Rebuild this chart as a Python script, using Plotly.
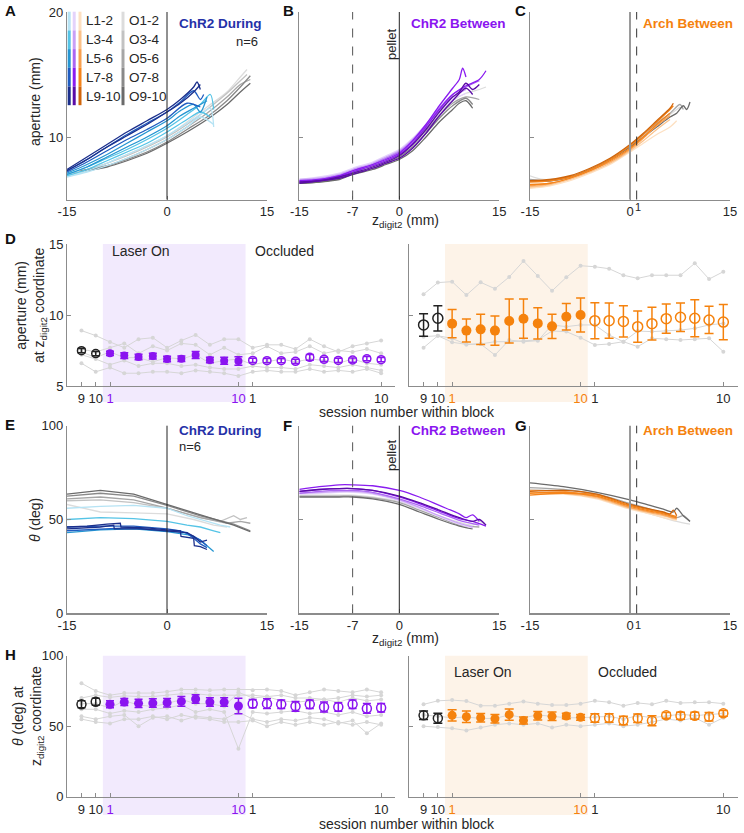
import plotly.graph_objects as go

W, H = 744, 833
FONT = "Liberation Sans, Arial, sans-serif"
TXT = "#262626"
AXC = "#8c8c8c"

BLUE_T = "#2531a8"
PURPLE = "#8a14f0"
ORANGE = "#f5820d"
BLUES = ["#b6e3f4", "#55c4e6", "#2596d2", "#1f5cc0", "#1b2f8c"]
PURPLES = ["#e4d3fb", "#c9a0f6", "#ab66f2", "#8a1cf0", "#5a0ca6"]
ORANGES = ["#fde0c2", "#fbc189", "#f9a04f", "#f5841a", "#d0650a"]
GRAYS = ["#dcdcdc", "#c2c2c2", "#a6a6a6", "#898989", "#6b6b6b"]
LEG_L = ["L1-2", "L3-4", "L5-6", "L7-8", "L9-10"]
LEG_O = ["O1-2", "O3-4", "O5-6", "O7-8", "O9-10"]

# ---------------- trajectory data: (shade index, z, value) ----------------
A_GRAY = [
    (0, [-15, -12, -9, -6, -3, 0, 3, 6, 9, 11, 12], [7.0, 7.3, 7.9, 8.6, 9.3, 10.1, 11.2, 12.4, 13.6, 14.8, 15.4]),
    (1, [-14, -12, -9, -6, -3, 0, 3, 6, 9, 11, 12], [7.1, 7.4, 7.9, 8.5, 9.2, 10.0, 11.0, 12.2, 13.5, 14.5, 15.0]),
    (2, [-13, -9, -6, -3, 0, 3, 6, 9, 11, 12.5], [7.2, 7.7, 8.3, 9.0, 9.8, 10.8, 11.9, 13.2, 14.2, 14.6]),
    (3, [-13, -9, -6, -3, 0, 3, 6, 9, 11, 12.5], [7.3, 7.7, 8.2, 8.8, 9.6, 10.6, 11.6, 12.9, 14.0, 14.9]),
    (4, [-12.5, -9, -6, -3, 0, 3, 6, 9, 11, 12.5], [7.3, 7.6, 8.1, 8.7, 9.5, 10.4, 11.4, 12.6, 13.6, 14.3]),
]
A_LASER = [
    (0, [-15, -12, -9, -6, -3, 0, 3, 5, 6.5, 7], [6.9, 7.3, 7.9, 8.6, 9.3, 10.1, 11.1, 11.8, 12.3, 10.8]),
    (0, [-15, -12, -9, -6, -3, 0, 3, 5, 7], [6.8, 7.2, 7.7, 8.3, 9.0, 9.8, 10.8, 11.6, 11.0]),
    (1, [-15, -12, -9, -6, -3, 0, 3, 5, 6.5, 7], [7.0, 7.6, 8.3, 9.0, 9.8, 10.7, 11.8, 12.6, 13.4, 12.2]),
    (1, [-15, -12, -9, -6, -3, 0, 3, 5, 6.5], [6.9, 7.4, 8.1, 8.8, 9.5, 10.4, 11.4, 12.0, 11.6]),
    (2, [-15, -12, -9, -6, -3, 0, 2, 4, 5, 6], [7.1, 7.8, 8.6, 9.5, 10.4, 11.3, 12.1, 12.6, 12.0, 13.2]),
    (2, [-15, -12, -9, -6, -3, 0, 2, 4, 6], [7.0, 7.6, 8.4, 9.2, 10.0, 10.9, 11.7, 12.3, 12.9]),
    (3, [-15, -12, -9, -6, -3, 0, 2, 4, 5, 5.5], [7.3, 8.2, 9.2, 10.2, 11.1, 12.0, 12.8, 13.7, 13.0, 13.4]),
    (3, [-15, -12, -9, -6, -3, 0, 3, 5], [7.2, 8.0, 8.9, 9.8, 10.6, 11.5, 12.7, 12.4]),
    (4, [-15, -12, -9, -6, -3, 0, 2, 4, 4.5, 5], [7.4, 8.4, 9.4, 10.4, 11.3, 12.2, 13.0, 14.0, 14.4, 13.8]),
    (4, [-15, -12, -9, -6, -3, 0, 2, 4, 5], [7.3, 8.2, 9.2, 10.1, 11.0, 12.0, 12.7, 13.6, 14.2]),
]
B_GRAY = [
    (0, [-15, -12, -9, -7, -4, -2, 0, 2, 4, 6, 8, 10, 12, 13], [6.5, 6.6, 6.9, 7.3, 7.8, 8.3, 8.8, 9.6, 10.7, 11.9, 12.9, 13.5, 13.8, 14.0]),
    (2, [-15, -12, -9, -7, -4, -2, 0, 2, 4, 6, 8, 10, 12], [6.4, 6.5, 6.8, 7.2, 7.7, 8.1, 8.6, 9.4, 10.5, 11.7, 12.7, 13.2, 13.0]),
    (3, [-15, -12, -9, -7, -4, -2, 0, 2, 4, 6, 8, 10, 11], [6.3, 6.4, 6.7, 7.1, 7.5, 7.9, 8.4, 9.2, 10.3, 11.5, 12.5, 13.1, 12.6]),
    (4, [-15, -12, -9, -7, -4, -2, 0, 2, 4, 6, 8, 9, 10, 11], [6.3, 6.4, 6.6, 7.0, 7.4, 7.8, 8.2, 8.9, 10.0, 11.2, 12.2, 12.7, 12.9, 12.3]),
]
B_LASER = [
    (0, [-15, -12, -9, -7, -4, -2, 0, 2, 4, 6, 8, 10], [6.6, 6.8, 7.1, 7.5, 8.0, 8.5, 9.0, 9.9, 11.0, 12.1, 13.0, 13.5]),
    (1, [-15, -12, -9, -7, -4, -2, 0, 2, 4, 6, 8, 10], [6.6, 6.7, 7.0, 7.4, 7.9, 8.4, 8.9, 9.8, 11.0, 12.2, 13.2, 13.8]),
    (2, [-15, -12, -9, -7, -4, -2, 0, 2, 4, 6, 8, 10, 12], [6.5, 6.6, 6.9, 7.3, 7.8, 8.3, 8.8, 9.7, 10.9, 12.3, 13.4, 14.0, 14.5]),
    (3, [-15, -12, -9, -7, -4, -2, 0, 2, 4, 6, 8, 9, 9.5, 10], [6.5, 6.6, 6.9, 7.3, 7.8, 8.2, 8.7, 9.7, 11.0, 12.5, 13.9, 14.6, 15.5, 14.8]),
    (3, [-15, -12, -9, -7, -4, -2, 0, 2, 4, 6, 8, 10, 12, 13], [6.4, 6.5, 6.8, 7.2, 7.7, 8.1, 8.6, 9.5, 10.8, 12.2, 13.4, 14.1, 14.6, 15.3]),
    (4, [-15, -12, -9, -7, -4, -2, 0, 2, 4, 6, 8, 9, 10, 11, 12], [6.4, 6.5, 6.8, 7.1, 7.6, 8.0, 8.5, 9.4, 10.6, 12.0, 13.2, 13.6, 14.3, 13.8, 14.2]),
    (4, [-15, -12, -9, -7, -4, -2, 0, 2, 4, 6, 8, 10, 11], [6.3, 6.5, 6.7, 7.0, 7.5, 7.9, 8.3, 9.1, 10.3, 11.7, 12.9, 13.9, 13.4]),
]
C_GRAY = [
    (0, [-15, -13, -9, -6, -3, 0, 2, 4, 6, 7.5], [6.9, 6.6, 6.8, 7.3, 8.1, 9.2, 10.1, 11.0, 11.8, 12.4]),
    (2, [-15, -12, -9, -6, -3, 0, 2, 4, 6, 7.5, 8], [6.6, 6.5, 6.8, 7.4, 8.2, 9.3, 10.2, 11.1, 11.9, 12.6, 12.2]),
    (4, [-15, -12, -9, -6, -3, 0, 2, 4, 6, 7, 8, 8.5, 9], [6.5, 6.5, 6.8, 7.4, 8.2, 9.2, 10.0, 10.8, 11.6, 11.9, 12.5, 12.2, 12.8]),
]
C_LASER = [
    (0, [-15, -12, -9, -6, -3, 0, 2, 4, 6, 7], [5.9, 6.1, 6.5, 7.1, 7.8, 8.8, 9.5, 10.2, 10.8, 11.3]),
    (1, [-15, -12, -9, -6, -3, 0, 2, 4, 6], [6.0, 6.2, 6.6, 7.2, 7.9, 8.9, 9.7, 10.6, 11.4]),
    (2, [-15, -12, -9, -6, -3, 0, 2, 4, 6], [6.1, 6.3, 6.7, 7.3, 8.0, 9.0, 9.9, 10.9, 11.7]),
    (3, [-15, -12, -9, -6, -3, 0, 2, 4, 6, 6.5], [6.4, 6.5, 6.8, 7.4, 8.2, 9.3, 10.2, 11.2, 12.2, 12.5]),
    (3, [-15, -12, -9, -6, -3, 0, 2, 4, 6], [6.2, 6.3, 6.7, 7.3, 8.1, 9.1, 10.0, 11.0, 11.9]),
    (4, [-15, -12, -9, -6, -3, 0, 2, 4, 6, 6.5], [6.5, 6.6, 6.9, 7.5, 8.3, 9.4, 10.3, 11.3, 12.3, 12.7]),
]
E_GRAY = [
    (0, [-15, -10, -5, 0, 4, 7, 9], [58, 54, 53.5, 53, 50, 47, 46]),
    (1, [-15, -10, -5, 0, 5, 8, 10, 11, 12], [60, 60.5, 59, 56, 51, 49, 52, 50, 51]),
    (2, [-15, -10, -5, 0, 5, 9, 11, 12.5], [61, 62, 60.5, 56, 51, 48, 49, 48]),
    (3, [-15, -10, -5, 0, 5, 10, 12.5], [62.5, 64, 62.5, 57.5, 52, 47.5, 44]),
    (4, [-15, -10, -5, 0, 5, 10, 12.5], [63.5, 65.5, 63.5, 58, 52.5, 47, 43.5]),
]
E_LASER = [
    (0, [-15, -10, -5, 0, 3, 6, 8, 9.5], [56, 57, 57.5, 56, 52, 49, 47, 46]),
    (1, [-15, -10, -5, 0, 3, 5, 7, 8], [50, 51, 50.5, 49, 47, 46, 44, 43]),
    (2, [-15, -10, -5, 0, 3, 5, 6, 7], [43, 44.5, 45, 43.5, 42, 39, 36, 33]),
    (3, [-15, -12, -9, -6, -3, 0, 3, 4, 5, 6], [44, 44.5, 45, 45.5, 45, 44, 43, 40, 37, 35]),
    (3, [-15, -10, -5, 0, 2, 4, 5, 6], [46, 46.5, 46.5, 45, 44, 41, 39, 36]),
    (4, [-15, -12, -9, -7, -6.9, -3, 0, 2, 2.1, 3, 4, 4.1, 5, 6], [46, 46.5, 47.5, 48, 46, 45.5, 44.5, 44, 41, 40.5, 40, 36, 35.5, 34]),
    (4, [-15, -10, -8, -7.9, -4, 0, 3, 4, 5, 6], [45, 46, 47, 45, 45, 44, 43, 41, 38, 39]),
]
F_GRAY = [
    (0, [-15, -12, -9, -7, -4, 0, 3, 6, 9, 11, 12, 13], [63, 63, 63, 63, 62, 59.5, 56, 52, 48.5, 47, 49, 47]),
    (2, [-15, -12, -9, -7, -4, 0, 3, 6, 9, 12], [62.5, 62.5, 62.5, 62.5, 61.5, 59, 55, 51, 47, 46]),
    (4, [-15, -12, -9, -7, -4, 0, 3, 6, 9, 11], [62, 62, 62, 62, 61, 58, 54, 50, 46.5, 45]),
]
F_LASER = [
    (0, [-15, -12, -9, -7, -4, 0, 3, 6, 9, 11], [63.5, 64, 64.5, 64.5, 63.5, 60, 56, 51.5, 47.5, 45.5]),
    (1, [-15, -12, -9, -7, -4, 0, 3, 6, 9, 11], [64, 64.5, 65, 65, 64, 60.5, 56.5, 52, 48, 46]),
    (2, [-15, -12, -9, -7, -4, 0, 3, 6, 9, 12], [64, 65, 65.5, 65.5, 64.5, 61, 57.5, 53.5, 49.5, 47]),
    (3, [-15, -12, -9, -7, -4, 0, 3, 6, 9, 10, 11, 12], [66, 67.5, 68.5, 68.5, 68, 65.5, 62, 57.5, 53, 51, 52.5, 49]),
    (3, [-15, -12, -9, -7, -4, 0, 3, 6, 9, 11, 13], [65, 66, 66.5, 66.5, 65.5, 62, 58.5, 54.5, 50.5, 49, 46.5]),
    (4, [-15, -12, -9, -7, -4, 0, 3, 6, 9, 11, 12, 13], [65, 66, 66.5, 66.5, 65.5, 62.5, 59, 55, 51, 49, 50, 47]),
]
G_GRAY = [
    (0, [-15, -10, -5, 0, 3, 5, 7, 9], [66, 65, 62, 56, 53, 51, 49, 47.5]),
    (2, [-15, -10, -5, 0, 3, 5, 7, 8, 9], [67, 66, 63.5, 58.5, 55.5, 53.5, 51, 52, 49]),
    (4, [-15, -10, -5, 0, 3, 5, 6.5, 7, 8, 9], [69.5, 67.5, 64.5, 60.5, 57.5, 55.5, 54, 56, 52, 49]),
]
G_LASER = [
    (0, [-15, -10, -5, 0, 3, 5, 7], [63.5, 63.5, 61, 55.5, 53, 51, 49.5]),
    (1, [-15, -10, -5, 0, 3, 5, 7], [64.5, 64, 61.5, 56, 53.5, 52, 50]),
    (2, [-15, -10, -5, 0, 3, 5, 7], [65.5, 65, 62, 56.5, 54, 52.5, 50.5]),
    (3, [-15, -10, -5, 0, 3, 5, 7], [64, 64.5, 63, 57.5, 55, 53.5, 51.5]),
    (3, [-15, -10, -5, 0, 3, 5, 7], [63, 64, 62.5, 57, 54.5, 53, 51]),
    (4, [-15, -10, -5, 0, 3, 5, 6, 6.5, 7], [65, 65.5, 63.5, 58, 55.5, 54, 53, 55, 52]),
]

# ---------------- session data ----------------
PRE_POS = [-1, 0]
LAS_POS = [1, 2, 3, 4, 5, 6, 7, 8, 9, 10]
OCC_POS = [11, 12, 13, 14, 15, 16, 17, 18, 19, 20]
ALL_POS = PRE_POS + LAS_POS + OCC_POS

D_L_PRE = [7.49, 7.28]
D_L_PRE_ERR = [0.15, 0.15]
D_L_LAS = [7.30, 7.14, 7.04, 7.11, 6.90, 6.92, 7.18, 6.83, 6.78, 6.76]
D_L_LAS_ERR = [0.15, 0.2, 0.2, 0.2, 0.2, 0.2, 0.25, 0.2, 0.25, 0.3]
D_L_OCC = [6.80, 6.78, 6.78, 6.74, 7.02, 6.88, 6.80, 6.83, 6.92, 6.85]
D_L_OCC_ERR = [0.15, 0.15, 0.15, 0.15, 0.2, 0.15, 0.15, 0.15, 0.15, 0.15]
D_L_ANIMALS = [
    [8.9, 8.55, 8.1, 7.7, 8.3, 8.4, 7.7, 8.2, 8.6, 7.9, 8.3, 8.3, 7.7, 7.9, 7.9, 7.6, 8.3, 7.8, 7.4, 7.8, 8.0, 8.2],
    [7.6, 7.4, 7.7, 8.0, 7.3, 7.8, 7.5, 8.0, 7.9, 7.2, 7.7, 7.2, 7.3, 7.8, 7.3, 7.4, 7.8, 7.3, 7.5, 7.4, 7.6, 7.3],
    [7.4, 7.0, 7.4, 7.0, 7.0, 6.7, 7.0, 6.9, 7.2, 6.6, 6.8, 6.9, 6.5, 6.7, 6.9, 6.7, 6.9, 6.8, 6.6, 6.9, 6.6, 6.5],
    [7.2, 6.9, 6.5, 6.8, 6.4, 6.6, 6.6, 6.4, 6.5, 6.3, 6.2, 6.2, 6.4, 6.3, 6.3, 6.2, 6.5, 6.4, 6.3, 6.5, 6.3, 6.1],
    [6.6, 6.0, 6.3, 5.9, 5.9, 6.0, 6.0, 5.9, 6.1, 6.0, 5.9, 5.7, 6.0, 6.1, 6.0, 6.0, 6.2, 6.0, 6.1, 6.0, 6.2, 5.9],
]

D_R_PRE = [9.30, 9.77]
D_R_PRE_ERR = [0.79, 0.89]
D_R_LAS = [9.39, 8.90, 8.99, 8.90, 9.58, 9.74, 9.41, 9.20, 9.88, 10.0]
D_R_LAS_ERR = [1.0, 0.81, 1.06, 1.03, 1.55, 1.38, 1.1, 0.85, 0.93, 1.19]
D_R_OCC = [9.60, 9.60, 9.55, 9.18, 9.39, 9.74, 9.84, 9.77, 9.65, 9.50]
D_R_OCC_ERR = [1.27, 1.24, 1.1, 1.1, 1.15, 1.03, 1.0, 1.3, 0.96, 1.24]
D_R_ANIMALS = [
    [11.46, 12.28, 12.35, 11.4, 12.3, 11.85, 12.68, 13.8, 12.75, 11.7, 12.65, 13.47, 13.4, 13.26, 12.8, 12.58, 12.8, 12.8, 12.8, 13.64, 12.53, 13.05],
    [8.47, 8.54, 8.08, 7.93, 7.96, 8.12, 8.12, 8.19, 8.24, 8.87, 8.83, 8.4, 7.89, 7.96, 8.12, 7.77, 8.36, 8.3, 8.24, 8.3, 8.36, 7.42],
    [7.7, 8.54, 8.35, 7.93, 7.96, 7.18, 8.24, 8.12, 8.19, 9.3, 9.18, 9.3, 9.3, 8.59, 8.12, 8.87, 8.83, 8.87, 8.94, 9.06, 9.3, 9.41],
]

H_L_PRE = [65.5, 67.4]
H_L_PRE_ERR = [2.5, 2.5]
H_L_LAS = [65.5, 67.1, 66.2, 66.4, 66.7, 67.6, 69.3, 67.1, 67.1, 64.3]
H_L_LAS_ERR = [2.5, 2.5, 3, 3, 3, 3.5, 3, 3, 3, 5.5]
H_L_OCC = [66, 66, 65.5, 64.1, 65.5, 63.6, 63.6, 65.5, 62.6, 63.1]
H_L_OCC_ERR = [3, 3.5, 3, 3.5, 3, 3.5, 3, 3, 3.5, 3]
H_L_ANIMALS = [
    [80.5, 75, 72, 73.5, 73.5, 73.5, 74.5, 76, 76, 75.5, 76, 76, 75.5, 76, 75, 72, 74, 76, 75, 74, 76, 74],
    [70, 72, 70.5, 71.5, 71, 71, 72, 73, 73, 72, 72, 72, 72, 71, 72, 70, 70, 69, 70, 72, 71, 72],
    [66, 66, 63, 68, 65, 64, 66, 69, 66, 66, 64, 74, 70, 71, 68, 67, 68, 69, 67, 70, 68, 69],
    [62, 62, 59, 61, 60, 62, 63, 65, 60, 62, 60, 34, 60, 59, 60, 61, 59, 60, 58, 60, 57, 58],
    [57, 55, 57, 58, 50, 56, 57, 54, 57, 56, 55, 60, 55, 53, 55, 54, 56, 55, 52, 54, 45, 52],
    [55, 53, 52, 55, 55, 57, 55, 58, 56, 55, 53, 53, 54, 50, 53, 51, 53, 51, 53, 51, 53, 51],
]

H_R_PRE = [57.7, 55.6]
H_R_PRE_ERR = [3, 3.5]
H_R_LAS = [57.7, 56.7, 56.0, 55.3, 58.2, 54.1, 57.4, 57.0, 57.2, 56.3]
H_R_LAS_ERR = [4, 4, 3, 3, 4, 2.5, 3, 3, 2, 2]
H_R_OCC = [55.8, 55.8, 54.1, 55.6, 53.9, 57.7, 57.4, 57.4, 56.7, 59.1]
H_R_OCC_ERR = [3, 3, 3, 3, 3.5, 2, 2.5, 2.5, 3, 2]
H_R_ANIMALS = [
    [65.5, 68, 68.5, 67.8, 64.5, 64.5, 66, 67.5, 66, 65, 65, 66, 68, 67, 64.5, 66.5, 65.5, 68, 66.5, 67, 67, 66],
    [58, 57, 56, 56.5, 55.5, 55.5, 58, 56, 58, 57, 56, 56, 56.5, 57, 55, 57.5, 56, 57, 58.5, 57.5, 58.5, 59],
    [50, 49.5, 48.5, 47, 49, 51, 52, 51, 52, 49, 51, 50, 51, 52, 50, 51, 53, 55, 54, 56, 51, 56],
]


def xd(p):
    return p / W


def yd(p):
    return 1 - p / H


# axis index: (x px span, y px span, x range, y range)
AXES = {
    1: ((67, 267), (12, 199.5), [-15, 15], [5, 20]),
    2: ((299.3, 499.3), (12, 199.5), [-15, 15], [5, 20]),
    3: ((530, 730), (12, 199.5), [-15, 15], [5, 20]),
    4: ((67.2, 395.4), (244, 386), [-2, 21], [5, 15]),
    5: ((409.3, 737.6), (244, 386), [-2, 21], [5, 15]),
    6: ((67, 267), (425.7, 613.3), [-15, 15], [0, 100]),
    7: ((299.3, 499.3), (425.7, 613.3), [-15, 15], [0, 100]),
    8: ((530, 730), (425.7, 613.3), [-15, 15], [0, 100]),
    9: ((67.2, 395.4), (655.7, 796.7), [-2, 21], [0, 100]),
    10: ((409.3, 737.6), (655.7, 796.7), [-2, 21], [0, 100]),
}


def sess_ticks(col):
    vals = [-1, 0, 1, 10, 11, 20]
    txt = ["9", "10", f'<span style="color:{col}">1</span>', f'<span style="color:{col}">10</span>', "1", "10"]
    return vals, txt


XT = {
    1: ([-15, 0, 15], ["-15", "0", "15"]),
    2: ([-15, -7, 0, 15], ["-15", "-7", "0", "15"]),
    3: ([-15, 0, 15], ["-15", "0", "15"]),
    4: sess_ticks(PURPLE),
    5: sess_ticks(ORANGE),
    6: ([-15, 0, 15], ["-15", "0", "15"]),
    7: ([-15, -7, 0, 15], ["-15", "-7", "0", "15"]),
    8: ([-15, 0, 15], ["-15", "0", "15"]),
    9: sess_ticks(PURPLE),
    10: sess_ticks(ORANGE),
}
YT = {
    1: ([10, 20], ["10", "20"]),
    2: ([10, 20], None),
    3: ([10, 20], None),
    4: ([5, 10, 15], ["5", "10", "15"]),
    5: ([5, 10, 15], None),
    6: ([0, 50, 100], ["0", "50", "100"]),
    7: ([0, 50, 100], None),
    8: ([0, 50, 100], None),
    9: ([0, 50, 100], ["0", "50", "100"]),
    10: ([0, 50, 100], None),
}


def ax_names(i):
    s = "" if i == 1 else str(i)
    return "x" + s, "y" + s, "xaxis" + s, "yaxis" + s


layout = dict(
    template="none",
    width=W, height=H, margin=dict(l=0, r=0, t=0, b=0, pad=0), autosize=False,
    paper_bgcolor="white", plot_bgcolor="rgba(0,0,0,0)", showlegend=False,
    font=dict(family=FONT, size=13, color=TXT),
)
common = dict(showline=True, linecolor=AXC, linewidth=1.2, ticks="inside", ticklen=4,
              tickcolor=AXC, tickwidth=1, showgrid=False, zeroline=False, automargin=False,
              tickmode="array", tickangle=0, fixedrange=True,
              tickfont=dict(family=FONT, size=13, color=TXT))
for i, (xs, ys, xr, yr) in AXES.items():
    xn, yn, xk, yk = ax_names(i)
    layout[xk] = dict(domain=[xd(xs[0]), xd(xs[1])], range=xr, anchor=yn,
                      tickvals=XT[i][0], ticktext=XT[i][1], **common)
    yv, yt = YT[i]
    ycfg = dict(domain=[yd(ys[1]), yd(ys[0])], range=yr, anchor=xn, tickvals=yv, **common)
    if yt is None:
        ycfg["showticklabels"] = False
    else:
        ycfg["ticktext"] = yt
    layout[yk] = ycfg

fig = go.Figure()


def add_curves(i, curves, palette, shape="spline", width=1.3):
    xn, yn, _, _ = ax_names(i)
    for k, z, v in curves:
        fig.add_trace(go.Scatter(x=z, y=v, mode="lines", xaxis=xn, yaxis=yn,
                                 line=dict(color=palette[k], width=width, shape=shape, smoothing=0.8),
                                 hoverinfo="skip"))


add_curves(1, A_GRAY, GRAYS)
add_curves(1, A_LASER, BLUES)
add_curves(2, B_GRAY, GRAYS)
add_curves(2, B_LASER, PURPLES)
add_curves(3, C_GRAY, GRAYS)
add_curves(3, C_LASER, ORANGES)
add_curves(6, E_GRAY, GRAYS, shape="linear")
add_curves(6, E_LASER, BLUES, shape="linear")
add_curves(7, F_GRAY, GRAYS)
add_curves(7, F_LASER, PURPLES)
add_curves(8, G_GRAY, GRAYS)
add_curves(8, G_LASER, ORANGES)


def add_sessions(i, animals, pre, pre_e, las, las_e, occ, occ_e, col, msize, ew):
    xn, yn, _, _ = ax_names(i)
    for a in animals:
        fig.add_trace(go.Scatter(x=ALL_POS, y=a, mode="lines+markers", xaxis=xn, yaxis=yn,
                                 line=dict(color="#d6d6d6", width=1),
                                 marker=dict(color="#d6d6d6", size=4), hoverinfo="skip"))
    fig.add_trace(go.Scatter(x=PRE_POS, y=pre, mode="markers", xaxis=xn, yaxis=yn,
                             error_y=dict(type="data", array=pre_e, color="#222222", thickness=1.5, width=ew),
                             marker=dict(symbol="circle-open", size=msize, color="#222222", line=dict(width=1.5)),
                             hoverinfo="skip"))
    fig.add_trace(go.Scatter(x=LAS_POS, y=las, mode="markers", xaxis=xn, yaxis=yn,
                             error_y=dict(type="data", array=las_e, color=col, thickness=1.5, width=ew),
                             marker=dict(symbol="circle", size=msize, color=col), hoverinfo="skip"))
    fig.add_trace(go.Scatter(x=OCC_POS, y=occ, mode="markers", xaxis=xn, yaxis=yn,
                             error_y=dict(type="data", array=occ_e, color=col, thickness=1.5, width=ew),
                             marker=dict(symbol="circle-open", size=msize, color=col, line=dict(width=1.5)),
                             hoverinfo="skip"))


add_sessions(4, D_L_ANIMALS, D_L_PRE, D_L_PRE_ERR, D_L_LAS, D_L_LAS_ERR, D_L_OCC, D_L_OCC_ERR, PURPLE, 8, 4)
add_sessions(5, D_R_ANIMALS, D_R_PRE, D_R_PRE_ERR, D_R_LAS, D_R_LAS_ERR, D_R_OCC, D_R_OCC_ERR, ORANGE, 10, 4.5)
add_sessions(9, H_L_ANIMALS, H_L_PRE, H_L_PRE_ERR, H_L_LAS, H_L_LAS_ERR, H_L_OCC, H_L_OCC_ERR, PURPLE, 9, 4)
add_sessions(10, H_R_ANIMALS, H_R_PRE, H_R_PRE_ERR, H_R_LAS, H_R_LAS_ERR, H_R_OCC, H_R_OCC_ERR, ORANGE, 9, 4.5)

shapes = []


def vline(i, x, color="#222222", width=1, dash="solid"):
    xn, yn, _, _ = ax_names(i)
    shapes.append(dict(type="line", xref=xn, yref=yn + " domain", x0=x, x1=x, y0=0, y1=1,
                       line=dict(color=color, width=width, dash=dash), layer="above"))


vline(1, 0)
vline(2, -7, color="#555555", dash="dash")
vline(2, 0)
vline(3, 0, color="#9a9a9a", width=2)
vline(3, 1, color="#333333", dash="dash")
vline(6, 0)
vline(7, -7, color="#555555", dash="dash")
vline(7, 0)
vline(8, 0, color="#9a9a9a", width=2)
vline(8, 1, color="#333333", dash="dash")


def shade(i, color, top, bottom):
    xn = ax_names(i)[0]
    shapes.append(dict(type="rect", xref=xn, yref="paper", x0=0.5, x1=10.5,
                       y0=yd(bottom), y1=yd(top), fillcolor=color, line=dict(width=0), layer="below"))


shade(4, "#f2eafd", 244, 402)
shade(5, "#fdf3e8", 244, 402)
shade(9, "#f2eafd", 655.7, 815)
shade(10, "#fdf3e8", 655.7, 815)

# legend colour bars in panel A
for r in range(5):
    y0, y1 = 11.7 + r * 18.7, 11.7 + (r + 1) * 18.7
    for xp, pal in ((69.2, BLUES), (74.2, PURPLES), (80, ORANGES), (123, GRAYS)):
        shapes.append(dict(type="line", xref="paper", yref="paper", x0=xd(xp), x1=xd(xp),
                           y0=yd(y0), y1=yd(y1), line=dict(color=pal[r], width=3)))

layout["shapes"] = shapes

ann = []


def text(x, y, t, size=13, color=TXT, xanchor="left", bold=False, angle=0, yanchor="middle"):
    if bold:
        t = "<b>" + t + "</b>"
    ann.append(dict(x=xd(x), y=yd(y), xref="paper", yref="paper", text=t, showarrow=False,
                    xanchor=xanchor, yanchor=yanchor, textangle=angle,
                    font=dict(family=FONT, size=size, color=color)))


for r in range(5):
    text(84, 20.7 + r * 19, LEG_L[r], size=13.5)
    text(127, 20.7 + r * 19, LEG_O[r], size=13.5)

# panel letters
for lab, x, y in (("A", 3, 11), ("B", 281, 10), ("C", 513, 10), ("D", 3, 238),
                  ("E", 3, 424), ("F", 281, 425), ("G", 513, 425), ("H", 3, 654)):
    text(x, y, lab, size=15, color="#111111", bold=True)

text(177, 24, "ChR2 During", color=BLUE_T, bold=True, size=13.5)
text(260, 41, "n=6", xanchor="right")
text(409, 24, "ChR2 Between", color=PURPLE, bold=True, size=13.5)
text(641, 24, "Arch Between", color=ORANGE, bold=True, size=13.5)
text(177, 430.5, "ChR2 During", color=BLUE_T, bold=True, size=13.5)
text(177, 446, "n=6")
text(409, 430.5, "ChR2 Between", color=PURPLE, bold=True, size=13.5)
text(641, 430.5, "Arch Between", color=ORANGE, bold=True, size=13.5)

text(391, 45, "pellet", xanchor="center", angle=-90)
text(391, 456, "pellet", xanchor="center", angle=-90)

text(638, 207, "1", size=11, xanchor="center")
text(638, 625, "1", size=11, xanchor="center")

text(406, 221, "z<sub>digit2</sub> (mm)", xanchor="center", size=14)
text(406, 639, "z<sub>digit2</sub> (mm)", xanchor="center", size=14)
text(407, 412, "session number within block", xanchor="center", size=14)
text(407, 824, "session number within block", xanchor="center", size=14)

text(35, 102, "aperture (mm)", xanchor="center", angle=-90, size=14)
text(35, 520, "<i>θ</i> (deg)", xanchor="center", angle=-90, size=14)
text(31, 306, "aperture (mm)<br>at z<sub>digit2</sub> coordinate", xanchor="center", angle=-90, size=14)
text(28, 716, "<i>θ</i> (deg) at<br>z<sub>digit2</sub> coordinate", xanchor="center", angle=-90, size=14)

text(110, 251, "Laser On", size=14)
text(253, 251, "Occluded", size=14)
text(452, 672, "Laser On", size=14)
text(596, 672, "Occluded", size=14)

layout["annotations"] = ann
fig.update_layout(**layout)
fig.write_html("out.html", config={"displayModeBar": False, "staticPlot": True},
               post_script="document.body.style.margin='0px';document.body.style.overflow='hidden';")
